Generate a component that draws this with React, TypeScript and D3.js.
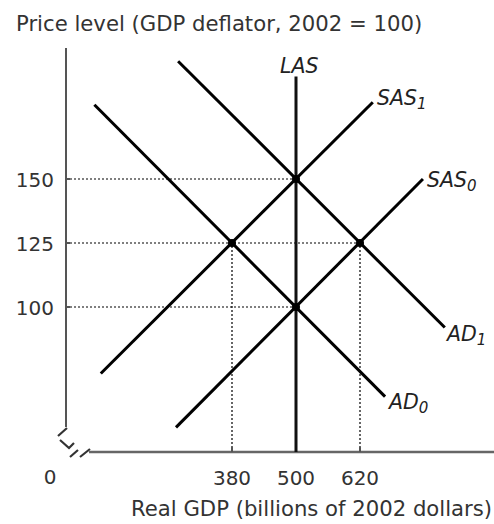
import React from "react";
import * as d3 from "d3";

const W = 494;
const H = 524;

// Axis tick values
const xTicks = [380, 500, 620];
const yTicks = [100, 125, 150];

// Curves: [real GDP, price level] endpoints
const LAS: [number, number][] = [[500, 190], [500, 43.4]];
const SAS0: [number, number][] = [[275, 53], [738, 150]];
const SAS1: [number, number][] = [[134, 74], [644, 180]];
const AD0: [number, number][] = [[122, 179], [667, 65]];
const AD1: [number, number][] = [[279, 196], [779, 92]];

// Equilibrium points
const equilibria: [number, number][] = [[500, 100], [380, 125], [620, 125], [500, 150]];

// Guide lines: horizontal (price, to gdp) and vertical (gdp, to price)
const hGuides: [number, number][] = [[150, 500], [125, 620], [100, 500]];
const vGuides: [number, number][] = [[380, 125], [620, 125]];

const FONT = "'DejaVu Sans', sans-serif";

export default function App() {
  const x = d3.scaleLinear().domain([380, 620]).range([232, 360]);
  const y = d3.scaleLinear().domain([100, 150]).range([307, 179]);
  const axisX = 66; // y-axis pixel position
  const axisY = 452; // x-axis pixel position

  const line = d3
    .line<[number, number]>()
    .x((d) => x(d[0]))
    .y((d) => y(d[1]));

  const curves = [SAS0, SAS1, AD0, AD1];

  return (
    <svg
      width={W}
      height={H}
      style={{ position: "absolute", left: 0, top: 0, background: "#fff" }}
      fontFamily={FONT}
    >
      {/* title */}
      <text x={16} y={31} fontSize={21.2} fill="#333">
        Price level (GDP deflator, 2002 = 100)
      </text>

      {/* guides */}
      {hGuides.map(([p, g], i) => (
        <line
          key={"h" + i}
          x1={axisX}
          x2={x(g)}
          y1={y(p)}
          y2={y(p)}
          stroke="#000"
          strokeWidth={1.2}
          strokeDasharray="2,2"
        />
      ))}
      {vGuides.map(([g, p], i) => (
        <line
          key={"v" + i}
          x1={x(g)}
          x2={x(g)}
          y1={axisY}
          y2={y(p)}
          stroke="#000"
          strokeWidth={1.2}
          strokeDasharray="2,2"
        />
      ))}

      {/* y axis */}
      <line x1={axisX} x2={axisX} y1={48} y2={427} stroke="#555" strokeWidth={2} />
      {yTicks.map((t) => (
        <g key={"yt" + t}>
          <line x1={axisX} x2={axisX + 4} y1={y(t)} y2={y(t)} stroke="#555" strokeWidth={2} />
          <text x={54} y={y(t) + 7.5} fontSize={20} textAnchor="end" fill="#333">
            {t}
          </text>
        </g>
      ))}

      {/* axis break */}
      <path
        d="M58,436 L67,428 M60,440 L69,448 L74,443 M70,457 L78,450 M80,457 L90,449"
        fill="none"
        stroke="#333"
        strokeWidth={2.2}
      />

      {/* x axis */}
      <line x1={89} x2={W} y1={axisY} y2={axisY} stroke="#666" strokeWidth={2.5} />
      {xTicks.map((t) => (
        <g key={"xt" + t}>
          <line x1={x(t)} x2={x(t)} y1={axisY} y2={axisY - 5} stroke="#555" strokeWidth={2} />
          <text x={x(t)} y={485} fontSize={20} textAnchor="middle" fill="#333">
            {t}
          </text>
        </g>
      ))}
      <text x={50} y={484} fontSize={20} textAnchor="middle" fill="#333">
        0
      </text>
      <text x={131} y={516} fontSize={21.2} fill="#333">
        Real GDP (billions of 2002 dollars)
      </text>

      {/* LAS */}
      <path d={line(LAS) || ""} stroke="#111" strokeWidth={3} fill="none" />

      {/* curves */}
      {curves.map((c, i) => (
        <path key={"c" + i} d={line(c) || ""} stroke="#000" strokeWidth={3} fill="none" />
      ))}

      {/* equilibrium dots */}
      {equilibria.map(([g, p], i) => (
        <circle key={"e" + i} cx={x(g)} cy={y(p)} r={4} fill="#000" />
      ))}

      {/* curve labels */}
      <g fontStyle="italic" fontSize={20.5} fill="#222">
        <text x={280} y={73}>LAS</text>
        <text x={377} y={105}>
          SAS<tspan fontSize={15} dy={4}>1</tspan>
        </text>
        <text x={427} y={187}>
          SAS<tspan fontSize={15} dy={4}>0</tspan>
        </text>
        <text x={447} y={341}>
          AD<tspan fontSize={15} dy={4}>1</tspan>
        </text>
        <text x={389} y={409}>
          AD<tspan fontSize={15} dy={4}>0</tspan>
        </text>
      </g>
    </svg>
  );
}
